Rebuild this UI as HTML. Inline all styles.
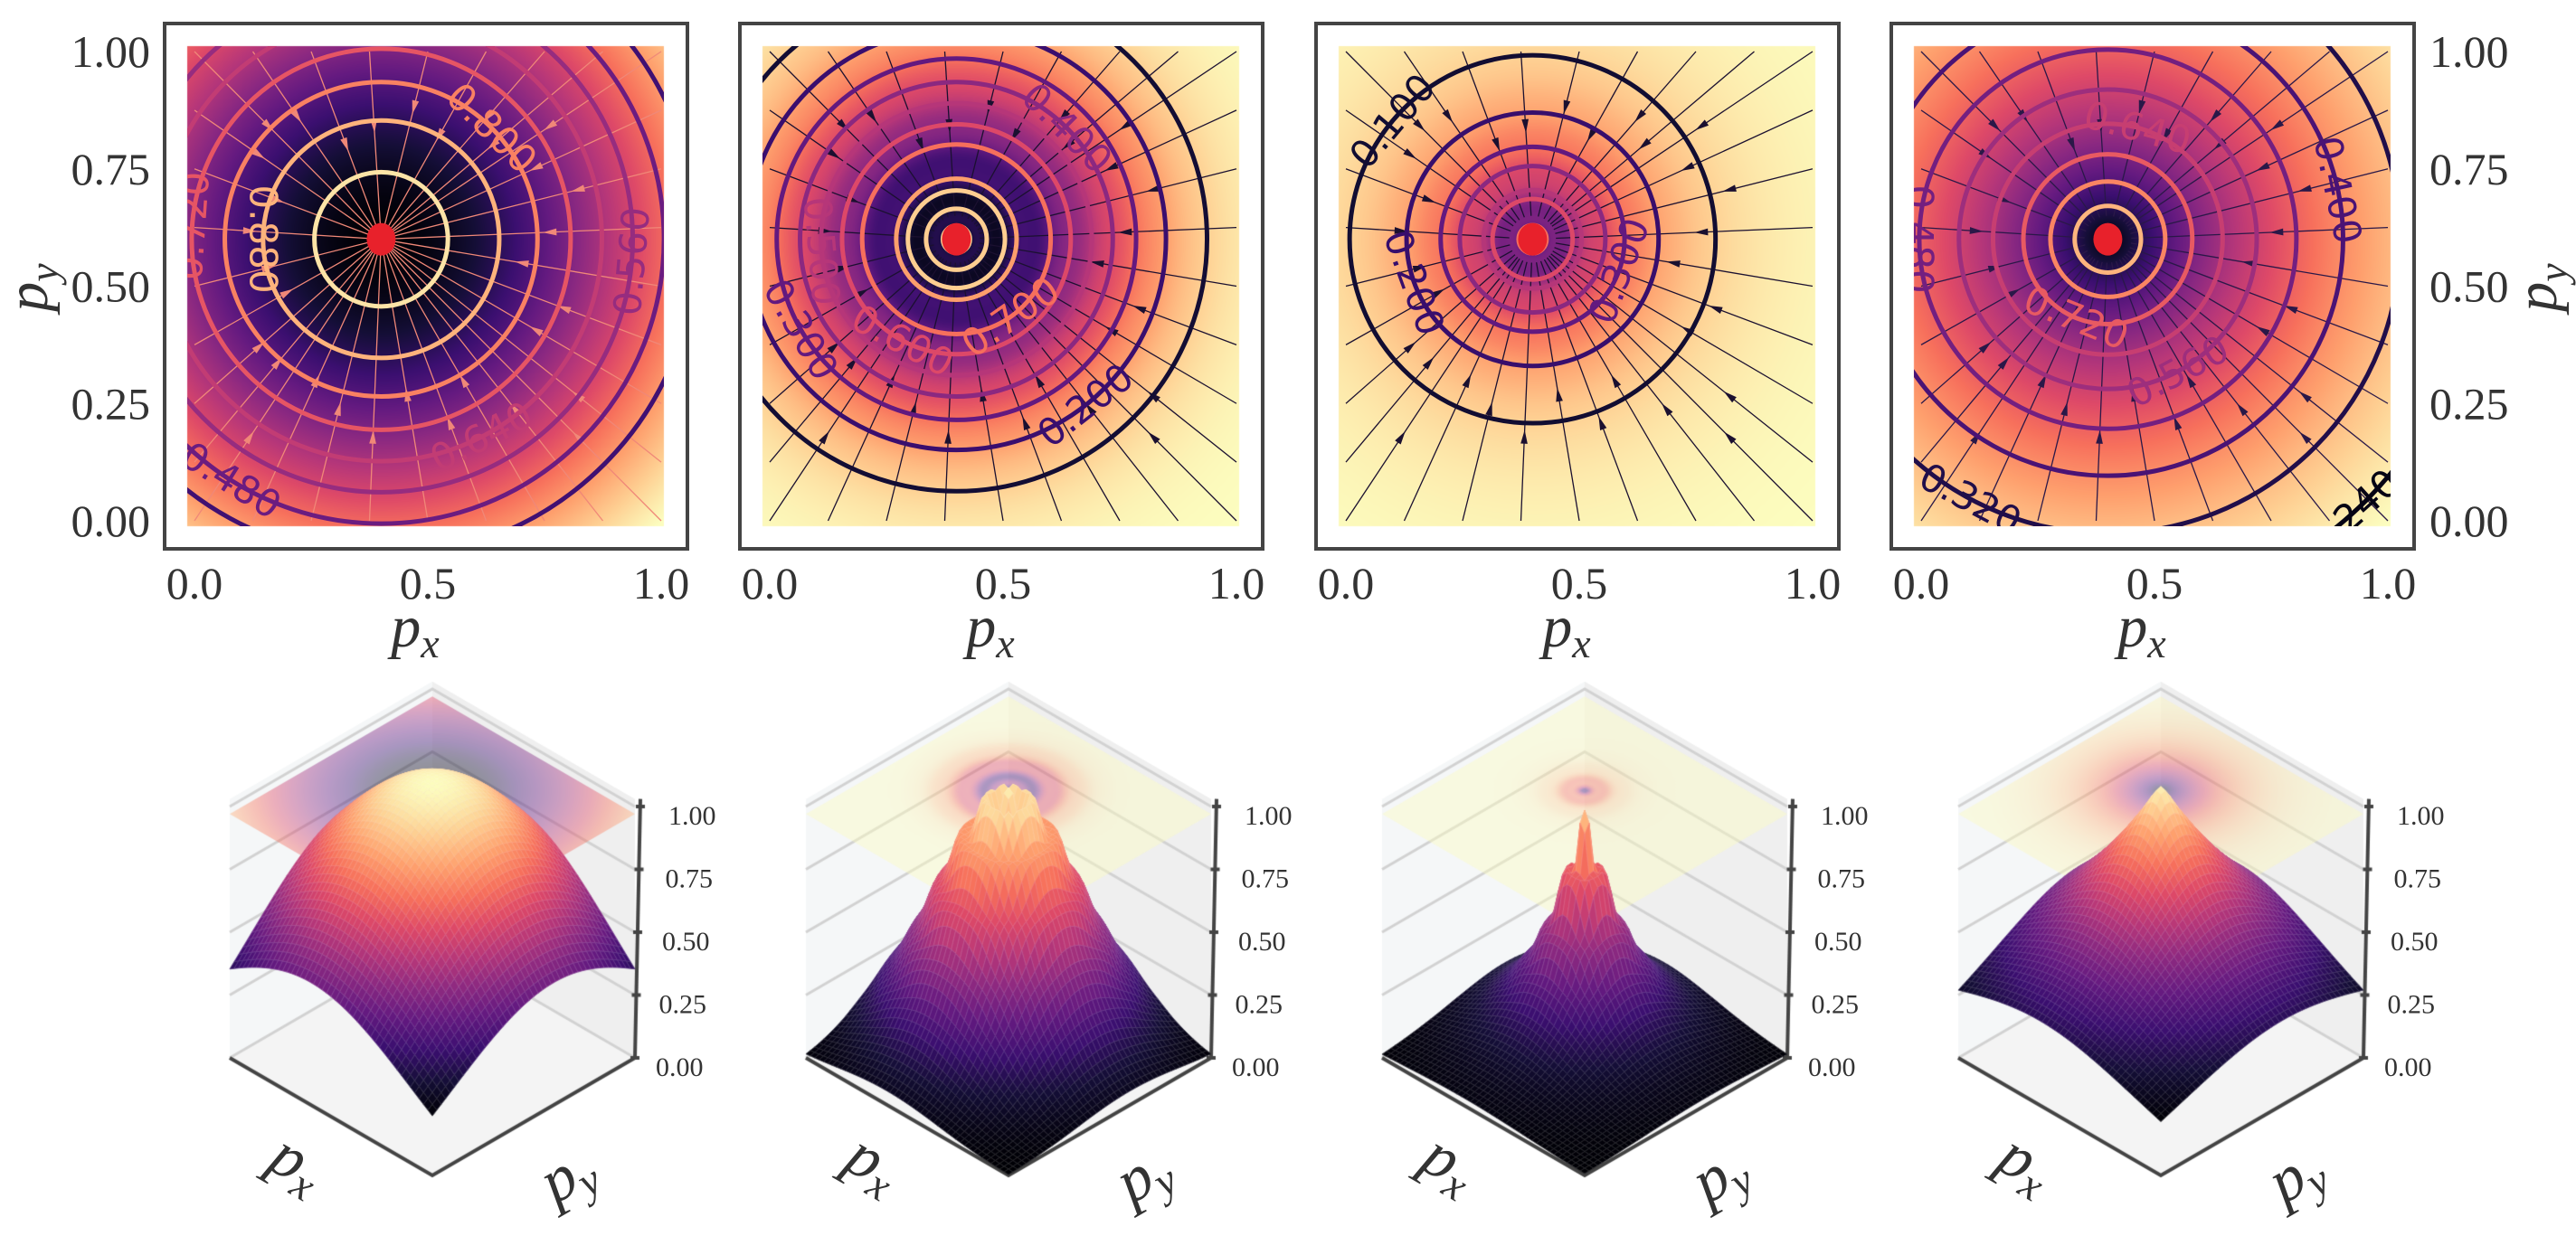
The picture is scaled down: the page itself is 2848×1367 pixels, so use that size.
<!DOCTYPE html>
<html><head><meta charset="utf-8">
<style>
html,body{margin:0;padding:0;background:#fff;}
#wrap{position:relative;width:2848px;height:1367px;overflow:hidden;}
canvas,svg{position:absolute;left:0;top:0;}
</style></head>
<body>
<div id="wrap">
<canvas id="cv" width="2848" height="1367"></canvas>
<svg id="sv" width="2848" height="1367" xmlns="http://www.w3.org/2000/svg"></svg>
</div>
<script>
// ---- data ----
const center = [0.4, 0.6];
const kinds = ['gauss', 'gauss', 'exp', 'exp'];
const scales = [0.5, 0.25, 0.17, 0.55];
const ripAmp = [0, 0.15, 0.25, 0];
const ripFreq = [0, 35, 40, 0];
const ripDecay = [1, 0.25, 0.12, 1];
const levels1 = [0.40, 0.48, 0.56, 0.64, 0.72, 0.80, 0.88, 0.96];
const levels2 = [0.1, 0.2, 0.3, 0.4, 0.5, 0.6, 0.7, 0.8, 0.9];
const levels3 = [0.1, 0.2, 0.3, 0.4, 0.5, 0.6, 0.7, 0.8, 0.9];
const levels4 = [0.24, 0.32, 0.40, 0.48, 0.56, 0.64, 0.72, 0.80, 0.88, 0.96];
const labels1 = [[0.80, 45], [0.88, 180], [0.56, -5], [0.64, -63], [0.48, -122], [0.72, 176]];
const labels2 = [[0.4, 45], [0.2, -52], [0.3, -150], [0.6, -118], [0.7, -55], [0.5, 185]];
const labels3 = [[0.1, 140], [0.2, 200], [0.3, -20]];
const labels4 = [[0.64, 75], [0.4, 12], [0.48, 180], [0.72, -112], [0.56, -62], [0.32, -118], [0.24, -48]];
const topGamma = [1, 4, 3, 2.5];
const streamColor = ['#f08878', '#1b1030', '#1b1030', '#2a1848'];
const xTicks = [0.0, 0.5, 1.0];
const xTickLabels = ['0.0', '0.5', '1.0'];
const yTicks = [0.0, 0.25, 0.5, 0.75, 1.0];
const yTickLabels = ['0.00', '0.25', '0.50', '0.75', '1.00'];
const zTicks = [0.0, 0.25, 0.5, 0.75, 1.0];
const zTickLabels = ['0.00', '0.25', '0.50', '0.75', '1.00'];
const allLevels = [levels1, levels2, levels3, levels4];
const allLabels = [labels1, labels2, labels3, labels4];

// ---- helpers ----
const magmaStops = ['#000004','#140e36','#3b0f70','#641a80','#8c2981','#b73779','#de4968','#f7705c','#fe9f6d','#fecf92','#fcfdbf'].map(h=>[parseInt(h.substr(1,2),16),parseInt(h.substr(3,2),16),parseInt(h.substr(5,2),16)]);
function magma(t){t=Math.max(0,Math.min(1,t));const s=t*10;const i=Math.min(9,Math.floor(s));const f=s-i;const a=magmaStops[i],b=magmaStops[i+1];return [a[0]+(b[0]-a[0])*f,a[1]+(b[1]-a[1])*f,a[2]+(b[2]-a[2])*f];}
function rgb(c,al){return al===undefined?`rgb(${c[0]|0},${c[1]|0},${c[2]|0})`:`rgba(${c[0]|0},${c[1]|0},${c[2]|0},${al})`;}
function prof(k,r){const s=scales[k];const b=kinds[k]==='gauss'?Math.exp(-r*r/(2*s*s)):Math.exp(-r/s);return b*(1-ripAmp[k]*Math.exp(-r/ripDecay[k])*Math.pow(Math.sin(ripFreq[k]*r),2));}
function fval(k,u,v){return prof(k,Math.hypot(u-center[0],v-center[1]));}
const ranges=[0,1,2,3].map(k=>{let mn=1e9,mx=-1e9;for(let i=0;i<=60;i++)for(let j=0;j<=60;j++){const z=fval(k,i/60,j/60);mn=Math.min(mn,z);mx=Math.max(mx,z);}return [mn,mx];});
function norm(k,z){return (z-ranges[k][0])/(ranges[k][1]-ranges[k][0]);}

const NS='http://www.w3.org/2000/svg';
const sv=document.getElementById('sv');
function el(tag,attrs,parent){const e=document.createElementNS(NS,tag);for(const a in attrs)e.setAttribute(a,attrs[a]);(parent||sv).appendChild(e);return e;}

const cv=document.getElementById('cv');const ctx=cv.getContext('2d');

// ---- top row geometry ----
const frameL=[182,818,1455,2091];
const FT=26,FW=578,FH=581;
function X(k,u){return frameL[k]+33+u*516;}
function Y(v){return 576-v*519;}

for(let k=0;k<4;k++){
  const hx0=frameL[k]+25,hx1=frameL[k]+552,hy0=51,hy1=582;
  const w=hx1-hx0,h=hy1-hy0;const img=ctx.createImageData(w,h);
  for(let y=0;y<h;y++){const v=(576-(hy0+y))/519;for(let x=0;x<w;x++){const u=(hx0+x-frameL[k]-33)/516;const c=magma(1-norm(k,fval(k,u,v)));const p=(y*w+x)*4;img.data[p]=c[0];img.data[p+1]=c[1];img.data[p+2]=c[2];img.data[p+3]=255;}}
  ctx.putImageData(img,hx0,hy0);

  const g=el('g',{});
  
  
  const cp=el('clipPath',{id:'clip'+k},g);
  el('rect',{x:hx0,y:hy0,width:w,height:h},cp);
  const inner=el('g',{'clip-path':`url(#clip${k})`},g);

  const starts=[];
  for(let s=0;s<=1.0001;s+=0.125){starts.push([s,0]);starts.push([s,1]);if(s>0.01&&s<0.99){starts.push([0,s]);starts.push([1,s]);}}
  const rEnd=k===0?0.01:0.05;
  starts.forEach((p,idx)=>{
    const dx=center[0]-p[0],dy=center[1]-p[1];const L=Math.hypot(dx,dy);const ex=center[0]-dx/L*rEnd,ey=center[1]-dy/L*rEnd;
    const ln=el('line',{x1:X(k,p[0]),y1:Y(p[1]),x2:X(k,ex),y2:Y(ey),stroke:streamColor[k],'stroke-width':1.3},inner);
    
    
    const fr=0.3+0.25*((idx*7)%5)/5;const ax=p[0]+dx*fr,ay=p[1]+dy*fr;
    const sx=X(k,ax),sy=Y(ay);const ang=Math.atan2(Y(center[1])-sy,X(k,center[0])-sx);
    const a1=ang+2.7,a2=ang-2.7;
    const ar=el('polygon',{points:`${sx+Math.cos(ang)*7},${sy+Math.sin(ang)*7} ${sx+Math.cos(a1)*9},${sy+Math.sin(a1)*9} ${sx+Math.cos(a2)*9},${sy+Math.sin(a2)*9}`,fill:streamColor[k]},inner);
    
    
  });

  const lv=allLevels[k];const radii={};
  lv.forEach(L=>{radii[L]=[];let prev=prof(k,0)-L;for(let r=0.001;r<1.3;r+=0.001){const cur=prof(k,r)-L;if(prev*cur<=0&&prev!==cur)radii[L].push(r);prev=cur;}});
  lv.forEach(L=>{const col=rgb(magma(norm(k,L)));radii[L].forEach(r=>{
    const c=el('ellipse',{cx:X(k,center[0]),cy:Y(center[1]),rx:r*516,ry:r*519,fill:'none',stroke:col,'stroke-width':5},inner);
    
    
  });});
  allLabels[k].forEach(([L,th])=>{
    if(!radii[L]||!radii[L].length)return;const r=radii[L][radii[L].length-1];const t=th*Math.PI/180;
    const lx=X(k,center[0]+r*Math.cos(t)),ly=Y(center[1]+r*Math.sin(t));
    let rot=-(th+90);while(rot>90)rot-=180;while(rot<=-90)rot+=180;
    const col=rgb(magma(norm(k,L)));
    const tx=el('text',{x:lx,y:ly,'text-anchor':'middle','dominant-baseline':'central','font-family':'"DejaVu Sans","Liberation Sans",sans-serif','font-size':42,fill:col,transform:`rotate(${rot} ${lx} ${ly})`},inner);
    tx.textContent=L.toFixed(3);
    
    
  });
  const dot=el('ellipse',{cx:X(k,center[0]),cy:Y(center[1]),rx:16,ry:18,fill:'#e8212b'},g);
  
  

  const fr=el('rect',{x:frameL[k],y:FT,width:FW,height:FH,fill:'none',stroke:'#444','stroke-width':4},g);
  
  

  xTicks.forEach((t,i)=>{
    const tx=el('text',{x:X(k,t),y:662,'text-anchor':'middle','font-family':'"Liberation Serif",serif','font-size':50,fill:'#333'},g);
    tx.textContent=xTickLabels[i];
    
    
  });
  const xl=el('text',{x:X(k,0.5)-14,y:715,'text-anchor':'middle','font-family':'"Liberation Serif",serif','font-style':'italic','font-size':66,fill:'#333'},g);
  xl.innerHTML='p<tspan font-size="46" dy="12">x</tspan>';
  
  
}
yTicks.forEach((t,i)=>{
  const a=el('text',{x:166,y:Y(t)+17,'text-anchor':'end','font-family':'"Liberation Serif",serif','font-size':50,fill:'#333'});
  a.textContent=yTickLabels[i];
  
  
  const b=el('text',{x:2686,y:Y(t)+17,'text-anchor':'start','font-family':'"Liberation Serif",serif','font-size':50,fill:'#333'});
  b.textContent=yTickLabels[i];
  
  
});
[[52,'y-axis-title-left'],[2826,'y-axis-title-right']].forEach(([x,n])=>{
  const t=el('text',{x:x,y:318,'text-anchor':'middle','font-family':'"Liberation Serif",serif','font-style':'italic','font-size':66,fill:'#333',transform:`rotate(-90 ${x} 318)`});
  t.innerHTML='p<tspan font-size="46" dy="12">y</tspan>';
  
  
});

// ---- bottom row: 3D ----
const cx3=[478,1115,1752,2389];
const zt=0.97;
for(let k=0;k<4;k++){
  const cx=cx3[k];
  const P=(u,v,z)=>[cx-224+224*u+224*v,1170+130*u-130*v-278*z];
  const poly=(pts,fill,stroke,lw)=>{ctx.beginPath();pts.forEach((p,i)=>i?ctx.lineTo(p[0],p[1]):ctx.moveTo(p[0],p[1]));ctx.closePath();if(fill){ctx.fillStyle=fill;ctx.fill();}if(stroke){ctx.strokeStyle=stroke;ctx.lineWidth=lw;ctx.stroke();}};
  const ztop=1.03;
  poly([P(0,0,0),P(1,0,0),P(1,1,0),P(0,1,0)],'#f4f4f4');
  poly([P(0,0,0),P(0,1,0),P(0,1,ztop),P(0,0,ztop)],'#f5f7f8');
  poly([P(0,1,0),P(1,1,0),P(1,1,ztop),P(0,1,ztop)],'#efefef');
  ctx.strokeStyle='#d2d2d2';ctx.lineWidth=3;
  zTicks.forEach(z=>{const a=P(0,0,z),b=P(0,1,z),c=P(1,1,z);ctx.beginPath();ctx.moveTo(a[0],a[1]);ctx.lineTo(b[0],b[1]);ctx.lineTo(c[0],c[1]);ctx.stroke();});
  ctx.strokeStyle='#444';ctx.lineWidth=4;
  let a=P(0,0,0),b=P(1,0,0),c=P(1,1,0);ctx.beginPath();ctx.moveTo(a[0],a[1]);ctx.lineTo(b[0],b[1]);ctx.lineTo(c[0],c[1]);ctx.stroke();
  const zt0=P(1,1,0),zt1=P(1,1,ztop);ctx.beginPath();ctx.moveTo(zt0[0],zt0[1]);ctx.lineTo(zt1[0]+6,zt1[1]);ctx.stroke();
  zTicks.forEach((z,i)=>{const p=P(1,1,z);ctx.beginPath();ctx.moveTo(p[0]+6*z-5,p[1]);ctx.lineTo(p[0]+6*z+5,p[1]);ctx.stroke();
    const t=el('text',{x:cx+247+14*z,y:p[1]+20,'font-family':'"Liberation Serif",serif','font-size':30,fill:'#333'});
    t.textContent=zTickLabels[i];
    
    
  });
  const M=80;const off=document.createElement('canvas');off.width=M;off.height=M;const oc=off.getContext('2d');const oi=oc.createImageData(M,M);
  for(let j=0;j<M;j++)for(let i=0;i<M;i++){const t=Math.pow(Math.max(0,norm(k,fval(k,(i+.5)/M,(j+.5)/M))),topGamma[k]);const col=magma(1-t);const p=(j*M+i)*4;oi.data[p]=col[0];oi.data[p+1]=col[1];oi.data[p+2]=col[2];oi.data[p+3]=255;}
  oc.putImageData(oi,0,0);
  ctx.save();ctx.globalAlpha=0.42;ctx.setTransform(224/M,130/M,224/M,-130/M,cx-224,1170-278*zt);ctx.imageSmoothingEnabled=true;ctx.drawImage(off,0,0);ctx.restore();
  const N=46;const quads=[];
  for(let i=0;i<N;i++)for(let j=0;j<N;j++){const u0=i/N,u1=(i+1)/N,v0=j/N,v1=(j+1)/N;quads.push([u0,u1,v0,v1,(u0+u1)/2-(v0+v1)/2]);}
  quads.sort((p,q)=>p[4]-q[4]);
  quads.forEach(([u0,u1,v0,v1])=>{
    const z00=fval(k,u0,v0),z10=fval(k,u1,v0),z11=fval(k,u1,v1),z01=fval(k,u0,v1);
    const col=rgb(magma(norm(k,(z00+z10+z11+z01)/4)));
    poly([P(u0,v0,z00),P(u1,v0,z10),P(u1,v1,z11),P(u0,v1,z01)],col,col,0.8);
    ctx.strokeStyle='rgba(255,255,255,0.13)';ctx.lineWidth=1;ctx.stroke();
  });
  const l1=el('text',{x:cx-160,y:1305,'text-anchor':'middle','font-family':'"Liberation Serif",serif','font-style':'italic','font-size':70,fill:'#333',transform:`rotate(30 ${cx-160} 1305)`});
  l1.innerHTML='p<tspan font-size="48" dy="12">x</tspan>';
  
  
  const l2=el('text',{x:cx+160,y:1318,'text-anchor':'middle','font-family':'"Liberation Serif",serif','font-style':'italic','font-size':70,fill:'#333',transform:`rotate(-30 ${cx+160} 1318)`});
  l2.innerHTML='p<tspan font-size="48" dy="12">y</tspan>';
  
  
}
</script>
</body></html>
